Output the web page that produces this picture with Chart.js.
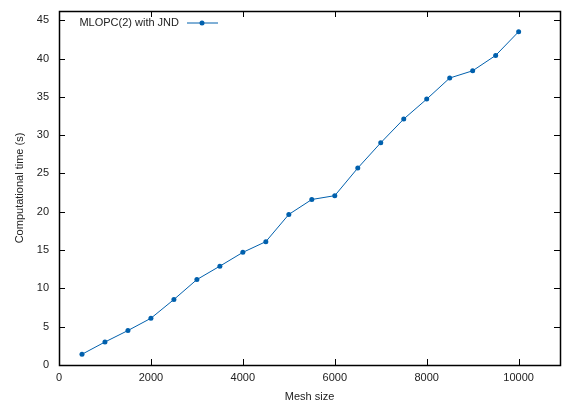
<!DOCTYPE html>
<html>
<head>
<meta charset="utf-8">
<script src="https://cdn.jsdelivr.net/npm/chart.js@4.4.0/dist/chart.umd.min.js"></script>
<style>
  body { margin: 0; background: #fff; }
  #wrap { width: 564px; height: 405px; }
</style>
</head>
<body>
<div id="wrap"><canvas id="grafico"></canvas></div>
<script>
// dados
const meshSizes = [500, 1000, 1500, 2000, 2500, 3000, 3500, 4000, 4500, 5000,
                   5500, 6000, 6500, 7000, 7500, 8000, 8500, 9000, 9500, 10000]
const tempos = [1.4, 3.0, 4.5, 6.1, 8.55, 11.15, 12.9, 14.7, 16.1, 19.65,
                21.6, 22.1, 25.7, 29.0, 32.1, 34.7, 37.45, 38.4, 40.4, 43.5]
const xTicks = [0, 2000, 4000, 6000, 8000, 10000]
const yTicks = [0, 5, 10, 15, 20, 25, 30, 35, 40, 45]

const azul = '#0060ad'
const fonte = { family: '"Liberation Sans", Arial, sans-serif', size: 11 }
const corTexto = '#222'

// moldura com ticks para dentro (estilo gnuplot) + legenda
const moldura = {
  id: 'moldura',
  afterDatasetsDraw(chart) {
    const ctx = chart.ctx
    const a = chart.chartArea
    const sx = chart.scales.x
    const sy = chart.scales.y
    const tam = 6
    ctx.save()
    ctx.strokeStyle = '#000'
    ctx.lineWidth = 1
    ctx.beginPath()
    xTicks.forEach(v => {
      const px = Math.round(sx.getPixelForValue(v)) + 0.5
      ctx.moveTo(px, a.bottom); ctx.lineTo(px, a.bottom - tam)
      ctx.moveTo(px, a.top); ctx.lineTo(px, a.top + tam)
    })
    yTicks.forEach(v => {
      const py = Math.round(sy.getPixelForValue(v)) + 0.5
      ctx.moveTo(a.left, py); ctx.lineTo(a.left + tam, py)
      ctx.moveTo(a.right, py); ctx.lineTo(a.right - tam, py)
    })
    ctx.stroke()
    ctx.lineWidth = 1.5
    ctx.strokeRect(Math.round(a.left) + 0.5, Math.round(a.top) + 0.5,
                   Math.round(a.right - a.left), Math.round(a.bottom - a.top))

    // legenda
    const ds = chart.data.datasets[0]
    const ly = a.top + 12
    ctx.font = '11px "Liberation Sans", Arial, sans-serif'
    ctx.fillStyle = corTexto
    ctx.textAlign = 'right'
    ctx.textBaseline = 'middle'
    ctx.fillText(ds.label, a.left + 120, ly)
    ctx.strokeStyle = azul
    ctx.lineWidth = 1
    ctx.beginPath()
    ctx.moveTo(a.left + 128, ly); ctx.lineTo(a.left + 159, ly)
    ctx.stroke()
    ctx.fillStyle = azul
    ctx.beginPath()
    ctx.arc(a.left + 143, ly, 2.5, 0, Math.PI * 2)
    ctx.fill()
    ctx.restore()
  }
}

// tira o espaco extra que o Chart.js reserva para os rotulos das pontas
function semPadding(s) {
  s.paddingTop = 0
  s.paddingBottom = 0
  s.paddingLeft = 0
  s.paddingRight = 0
}

const grafico = new Chart(document.getElementById('grafico'), {
  type: 'line',
  data: {
    datasets: [{
      label: 'MLOPC(2) with JND',
      data: meshSizes.map((m, i) => ({ x: m, y: tempos[i] })),
      borderColor: azul,
      backgroundColor: azul,
      borderWidth: 1,
      pointRadius: 2.5,
      pointBorderWidth: 0,
      tension: 0
    }]
  },
  options: {
    responsive: true,
    maintainAspectRatio: false,
    animation: false,
    layout: { padding: { top: 11, right: 2, left: 0, bottom: 0 } },
    plugins: { legend: { display: false }, tooltip: { enabled: false } },
    scales: {
      x: {
        type: 'linear',
        min: 0,
        max: 10900,
        afterBuildTicks: s => { s.ticks = xTicks.map(v => ({ value: v })) },
        afterFit: s => { s.height = 40; semPadding(s) },
        grid: { display: false, drawTicks: false },
        border: { display: false },
        ticks: { font: fonte, color: corTexto, padding: 6, maxRotation: 0,
                 callback: v => String(v) },
        title: { display: true, text: 'Mesh size', font: fonte, color: corTexto,
                 padding: { top: 0, bottom: 1 } }
      },
      y: {
        type: 'linear',
        min: 0,
        max: 46.2,
        afterBuildTicks: s => { s.ticks = yTicks.map(v => ({ value: v })) },
        afterFit: s => { s.width = 59; semPadding(s) },
        grid: { display: false, drawTicks: false },
        border: { display: false },
        ticks: { font: fonte, color: corTexto, padding: 10, callback: v => String(v) },
        title: { display: true, text: 'Computational time (s)', font: fonte, color: corTexto,
                 padding: { top: 13, bottom: 0 } }
      }
    }
  },
  plugins: [moldura]
})
</script>
</body>
</html>
